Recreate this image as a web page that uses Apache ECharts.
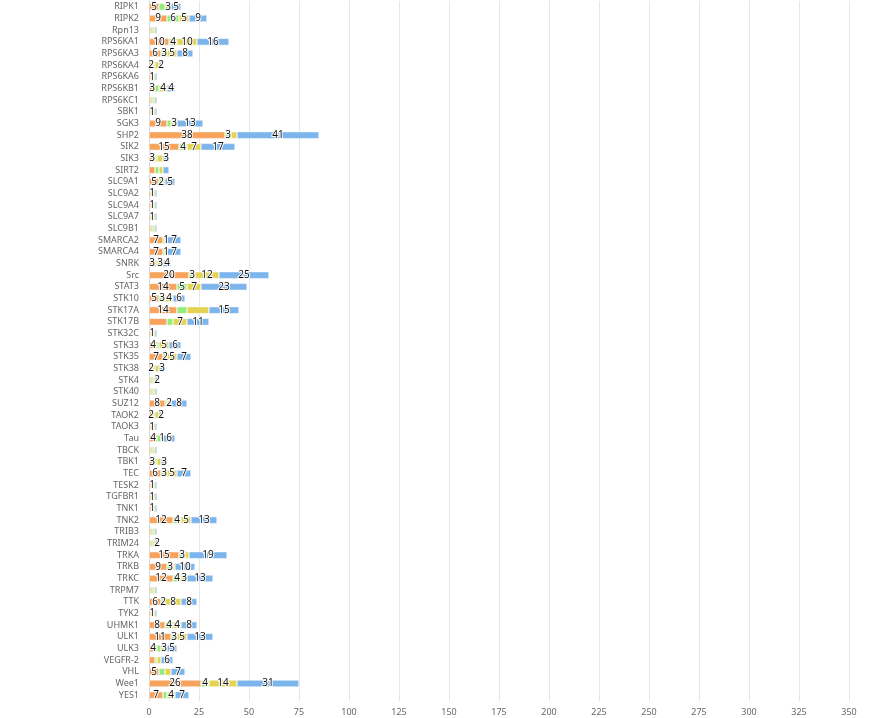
<!DOCTYPE html>
<html>
<head>
<meta charset="utf-8">
<script src="https://cdn.jsdelivr.net/npm/echarts@6/dist/echarts.min.js"></script>
<style>
html,body{margin:0;padding:0;background:#fff;}
#chart{width:873px;height:718px;}
</style>
</head>
<body>
<div id="chart"></div>
<script>
var categories = ['RIPK1','RIPK2','Rpn13','RPS6KA1','RPS6KA3','RPS6KA4','RPS6KA6','RPS6KB1','RPS6KC1','SBK1',
'SGK3','SHP2','SIK2','SIK3','SIRT2','SLC9A1','SLC9A2','SLC9A4','SLC9A7','SLC9B1',
'SMARCA2','SMARCA4','SNRK','Src','STAT3','STK10','STK17A','STK17B','STK32C','STK33',
'STK35','STK38','STK4','STK40','SUZ12','TAOK2','TAOK3','Tau','TBCK','TBK1',
'TEC','TESK2','TGFBR1','TNK1','TNK2','TRIB3','TRIM24','TRKA','TRKB','TRKC',
'TRPM7','TTK','TYK2','UHMK1','ULK1','ULK3','VEGFR-2','VHL','Wee1','YES1'];

var seriesOrange = [5,9,1,10,6,2,1,3,1,1, 9,38,15,3,3,5,1,1,1,1, 7,7,3,20,14,5,14,9,1,4, 7,2,1,1,8,2,1,4,1,3, 6,1,1,1,12,1,1,15,9,12, 1,6,1,8,11,4,3,5,26,7];
var seriesGreen  = [3,6,1,4,3,1,1,2,1,1, 2,3,4,1,2,2,1,1,1,1, 1,1,1,3,5,3,5,3,1,1, 2,1,1,1,1,1,1,2,1,1, 3,1,1,1,4,1,1,3,3,4, 1,2,1,4,3,2,1,3,4,2];
var seriesYellow = [3,5,1,10,5,2,1,4,1,1, 3,3,7,3,2,1,1,1,1,1, 1,1,3,12,7,4,11,7,1,5, 5,2,1,1,2,2,1,1,1,2, 5,1,1,1,5,1,1,2,1,3, 1,8,1,4,5,3,2,3,14,4];
var seriesBlue   = [5,9,1,16,8,2,1,4,1,1, 13,41,17,3,3,5,1,1,1,1, 7,7,4,25,23,6,15,11,1,6, 7,3,2,1,8,2,1,6,1,3, 7,1,1,1,13,1,2,19,10,13, 1,8,1,8,13,5,6,7,31,7];

// which segments carry a visible value label (orange, green, yellow, blue)
var labelMask = ['1011','1111','0000','1111','1111','1001','0100','1011','0000','0100',
'1011','1101','1111','1001','0000','1101','0100','0100','0100','0000',
'1011','1011','1011','1111','1111','1111','1001','0011','0100','1011',
'1111','1001','0001','0000','1011','1001','0100','1011','0000','1001',
'1111','0100','0100','0100','1111','0000','0001','1101','1101','1111',
'0000','1111','0100','1111','1111','1011','0001','1001','1111','1011'];

var xTicks = { min: 0, max: 350, interval: 25 };

var seriesDefs = [
  { name: 'Series 1', data: seriesOrange, color: '#f7a35c' },
  { name: 'Series 2', data: seriesGreen,  color: '#90ed7d' },
  { name: 'Series 3', data: seriesYellow, color: '#e4d354' },
  { name: 'Series 4', data: seriesBlue,   color: '#7cb5ec' }
];

var FONT = 'Noto Sans';

var series = seriesDefs.map(function (def, s) {
  return {
    name: def.name,
    type: 'bar',
    stack: 'total',
    barWidth: 7,
    itemStyle: { color: def.color, borderColor: '#ffffff', borderWidth: 0.5 },
    label: {
      show: true,
      position: 'inside',
      color: '#111',
      fontFamily: FONT,
      fontSize: 10,
      textBorderColor: '#ffffff',
      textBorderWidth: 2
    },
    data: def.data.map(function (v, i) {
      return { value: v, label: { show: labelMask[i].charAt(s) === '1' } };
    })
  };
});

var chart = echarts.init(document.getElementById('chart'), null, { renderer: 'canvas' });
chart.setOption({
  animation: false,
  backgroundColor: '#ffffff',
  grid: { left: 149, right: 24, top: 1, bottom: 17, containLabel: false },
  xAxis: {
    type: 'value',
    min: xTicks.min,
    max: xTicks.max,
    interval: xTicks.interval,
    axisLine: { show: false },
    axisTick: { show: false },
    axisLabel: { color: '#666666', fontFamily: FONT, fontSize: 9, margin: 7 },
    splitLine: { show: true, lineStyle: { color: '#e6e6e6', width: 1 } }
  },
  yAxis: {
    type: 'category',
    inverse: true,
    data: categories,
    axisLine: { show: true, lineStyle: { color: '#ccd6eb' } },
    axisTick: { show: false },
    axisLabel: { color: '#666666', fontFamily: FONT, fontSize: 9, margin: 10, interval: 0 },
    splitLine: { show: false }
  },
  series: series
});
</script>
</body>
</html>
